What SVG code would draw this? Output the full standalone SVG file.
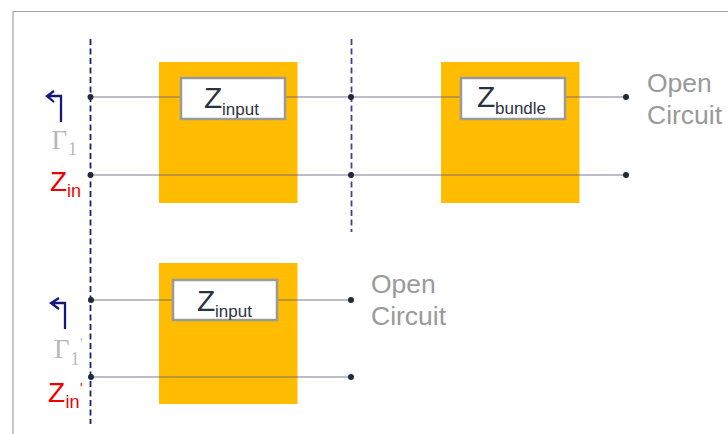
<svg xmlns="http://www.w3.org/2000/svg" width="728" height="434" viewBox="0 0 728 434">
<defs><style>
text{font-family:"Liberation Sans",Arial,sans-serif}
.blk{fill:#ffbc00}
.box{fill:#fff;stroke:#9a9a9a;stroke-width:2.5}
.wire{stroke:#5f6080;stroke-opacity:.55;stroke-width:1.3;fill:none}
.dash{stroke:#1f2170;stroke-width:1.8;stroke-dasharray:6 3.500;fill:none}
.dash2{stroke:#4a3f8f;stroke-width:1.8;stroke-dasharray:6 3.500;fill:none}
.dot{fill:#1f2a3a}
.z{fill:#2b3240;font-size:30px}
.zs{fill:#2b3240;font-size:17px}
.red{fill:#f00000;font-size:28px}
.reds{fill:#f00000;font-size:18px}
.gray{fill:#9a9a9a;font-size:26.500px}
.gam{font-family:"Liberation Serif",serif;fill:#b8b8b8;font-size:27px}
.gams{font-family:"Liberation Serif",serif;fill:#b8b8b8;font-size:18px}
.prime{font-family:"Liberation Serif",serif;fill:#b8b8b8;font-size:14px}
.arr{stroke:#14187c;stroke-width:2.300;fill:none}
</style></defs>
<path d="M13 434V11.500H728" fill="none" stroke="#a5a5a5" stroke-width="1.2"/>
<g id="block1"><rect class="blk" x="159" y="62" width="138.500" height="141"/></g>
<g id="block2"><rect class="blk" x="441" y="62" width="138.500" height="141"/></g>
<g id="block3"><rect class="blk" x="159" y="263" width="138.500" height="141"/></g>
<g id="connectors">
<path class="dash" d="M90.500 39V424"/>
<path class="dash2" d="M351.500 39V232"/>
<path class="wire" d="M90 97H626M90 175H626M91 300H351M91 377H351"/>
<path class="arr" d="M61 122V96H48M54 91L47 96L54 102"/>
<path class="arr" d="M65 329V303H52M59 298L51 303L59 309"/>
</g>
<g id="input1"><rect class="box" x="181" y="78" width="104" height="41"/><text class="z" x="204" y="108">Z</text><text class="zs" x="222" y="115">input</text></g>
<g id="bundle"><rect class="box" x="461" y="78" width="104" height="41"/><text class="z" x="477" y="107">Z</text><text class="zs" x="495" y="114">bundle</text></g>
<g id="input2"><rect class="box" x="173" y="280" width="104" height="40"/><text class="z" x="197" y="311">Z</text><text class="zs" x="215" y="317">input</text></g>
<g id="dots">
<circle class="dot" cx="90.500" cy="97" r="3"/><circle class="dot" cx="90.500" cy="175" r="3"/>
<circle class="dot" cx="351" cy="97" r="3"/><circle class="dot" cx="351" cy="175" r="3"/>
<circle class="dot" cx="626" cy="97" r="3"/><circle class="dot" cx="626" cy="175" r="3"/>
<circle class="dot" cx="91" cy="300" r="3"/><circle class="dot" cx="91" cy="377" r="3"/>
<circle class="dot" cx="351" cy="300" r="3"/><circle class="dot" cx="351" cy="377" r="3"/>
</g>
<g id="labels">
<text class="gray" x="647" y="92">Open</text><text class="gray" x="647" y="124">Circuit</text>
<text class="gray" x="371" y="293">Open</text><text class="gray" x="371" y="325">Circuit</text>
<text class="gam" x="51.500" y="149">Γ</text><text class="gams" x="68" y="155">1</text>
<text class="red" x="50" y="191">Z</text><text class="reds" x="67" y="197">in</text>
<text class="gam" x="54" y="358">Γ</text><text class="gams" x="70.500" y="365">1</text><text class="prime" x="80" y="348">′</text>
<text class="red" x="48" y="402">Z</text><text class="reds" x="65.500" y="408">in</text><text class="reds" x="80" y="393" style="font-size:14px">'</text>
</g>
</svg>
